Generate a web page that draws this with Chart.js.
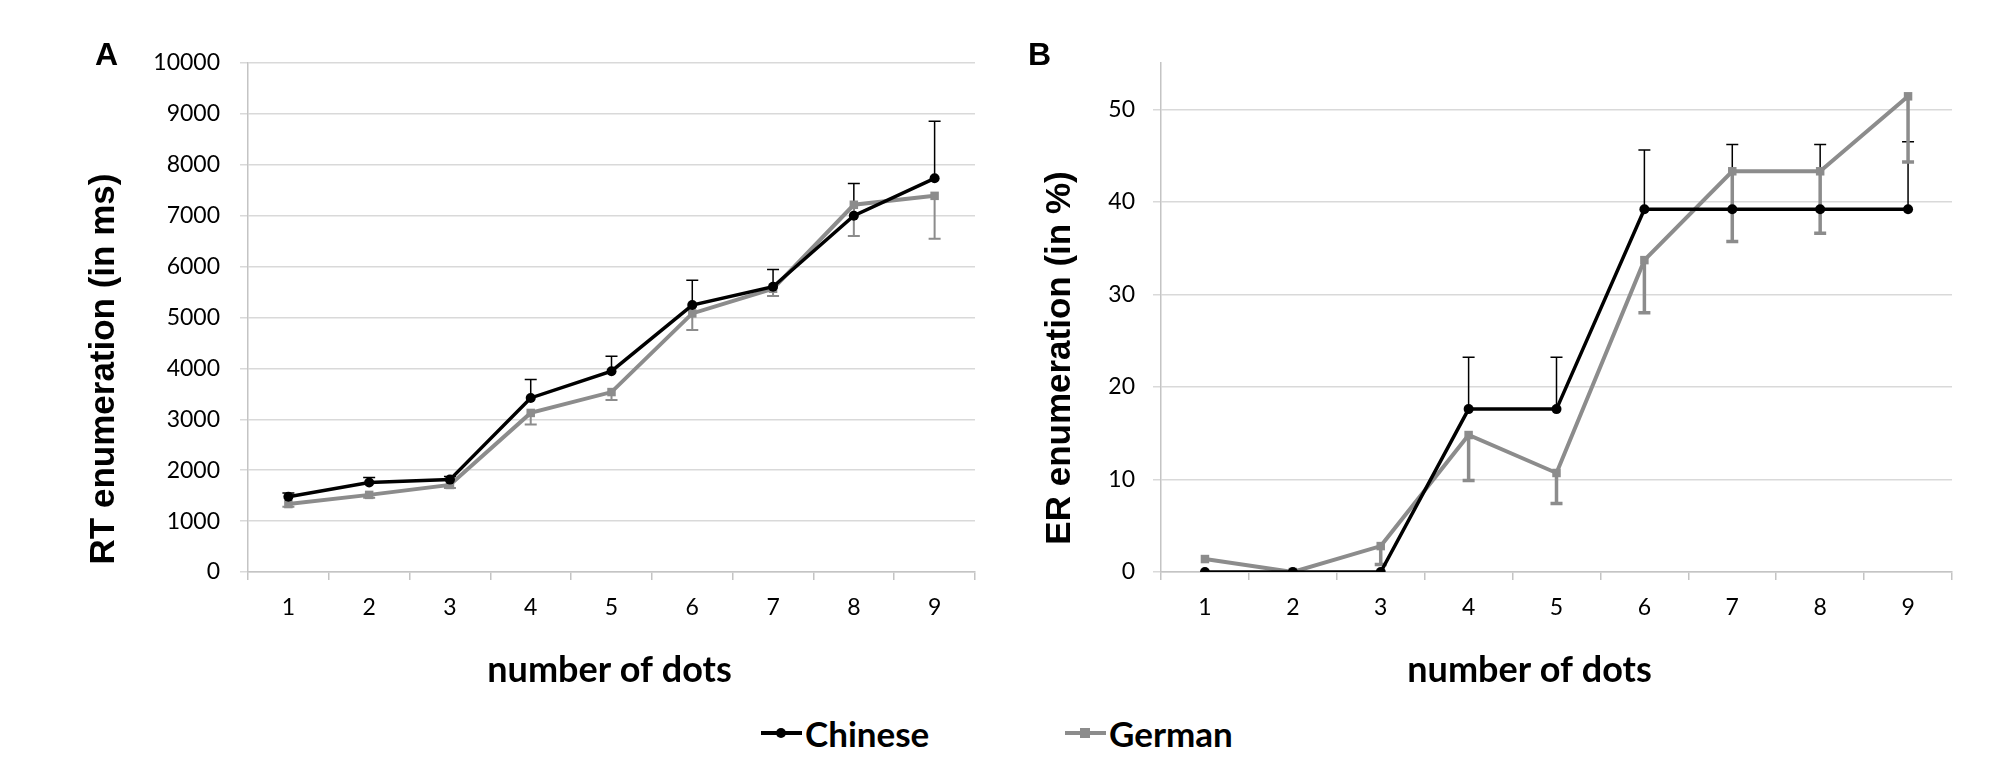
<!DOCTYPE html>
<html>
<head>
<meta charset="utf-8">
<script src="https://cdn.jsdelivr.net/npm/chart.js@4.4.1/dist/chart.umd.min.js"></script>
<style>
html,body{margin:0;padding:0;background:#fff;}
body{width:2004px;height:779px;position:relative;overflow:hidden;}
.panel{position:absolute;top:0;width:1002px;height:700px;}
.item{position:absolute;top:712px;height:42px;display:flex;align-items:center;font:bold 35px Lato,sans-serif;color:#000;}
.linea{display:inline-block;width:41px;height:4px;position:relative;margin-right:3px;}
.linea i{position:absolute;left:15px;top:-3px;width:10px;height:10px;}
</style>
</head>
<body>
<div class="panel" style="left:0"><canvas id="graficoRT"></canvas></div>
<div class="panel" style="left:1002px"><canvas id="graficoER"></canvas></div>
<div class="item" style="left:761px"><span class="linea" style="background:#000"><i style="background:#000;border-radius:50%"></i></span>Chinese</div>
<div class="item" style="left:1065px"><span class="linea" style="background:#8c8c8c"><i style="background:#8c8c8c"></i></span>German</div>
<script>
//datos
const puntos=['1','2','3','4','5','6','7','8','9'];

//A: tiempo de reaccion (ms)
const rtChino=[1480,1760,1815,3420,3945,5245,5605,7000,7735];
const rtChinoErr=[70,95,60,360,295,485,340,635,1120];     //hacia arriba
const rtAleman=[1335,1515,1710,3125,3535,5080,5565,7215,7390];
const rtAlemanErr=[55,55,60,225,155,325,145,615,845];     //hacia abajo

//B: tasa de error (%)
const erChino=[0,0,0,17.6,17.6,39.2,39.2,39.2,39.2];
const erChinoErr=[0,0,0,5.6,5.6,6.4,7.0,7.0,7.3];
const erAleman=[1.4,0,2.8,14.8,10.7,33.7,43.3,43.3,51.4];
const erAlemanErr=[0,0,2.0,4.9,3.3,5.7,7.6,6.7,7.1];

const GRIS='#8c8c8c';
const REJILLA='#d9d9d9';
const EJE='#c4c4c4';

//barras de error de cada serie (solo un lado, como en la figura), debajo de las lineas
const barrasError={
    id:'barrasError',
    beforeDatasetsDraw(chart)
    {
        const ctx=chart.ctx;
        const escalaY=chart.scales.y;
        chart.data.datasets.forEach((ds,i)=>
        {
            if(!ds.error)return;
            const meta=chart.getDatasetMeta(i);
            ctx.save();
            ctx.strokeStyle=ds.errorColor;
            ctx.lineWidth=ds.errorWidth;
            meta.data.forEach((pt,j)=>
            {
                const e=ds.error[j];
                if(!e)return;
                const py=escalaY.getPixelForValue(ds.data[j]+ds.errorDir*e);
                ctx.beginPath();
                ctx.moveTo(pt.x,pt.y);
                ctx.lineTo(pt.x,py);
                ctx.moveTo(pt.x-6,py);
                ctx.lineTo(pt.x+6,py);
                ctx.stroke();
            });
            ctx.restore();
        });
    }
};

//letra del panel y titulos de los ejes
const textosEje={
    id:'textosEje',
    afterDraw(chart,args,opts)
    {
        const ctx=chart.ctx;
        const area=chart.chartArea;
        ctx.save();
        ctx.fillStyle='#000';
        ctx.font='bold 32px "Liberation Sans"';
        ctx.textBaseline='alphabetic';
        ctx.fillText(opts.panel,opts.panelX,opts.panelY);

        ctx.font='bold 36px Lato';
        ctx.textAlign='center';
        ctx.textBaseline='middle';
        ctx.fillText('number of dots',(area.left+area.right)/2+opts.dxTituloX,opts.yTituloX);

        ctx.translate(opts.tituloX,opts.tituloY);
        ctx.rotate(-Math.PI/2);
        ctx.font='bold 35px "Liberation Sans"';
        ctx.fillText(opts.titulo,0,0);
        ctx.restore();
    }
};

function crearGrafico(ctx,series,ejeY,anchoY,padding,textos)
{
    return new Chart(ctx,{
        type:'line',
        data:{labels:puntos,datasets:series},
        plugins:[barrasError,textosEje],
        options:{
            responsive:true,
            maintainAspectRatio:false,
            animation:false,
            devicePixelRatio:1,
            layout:{padding:padding},
            plugins:{
                legend:{display:false},
                tooltip:{enabled:false},
                textosEje:textos
            },
            scales:{
                x:{
                    offset:true,
                    grid:{offset:true,drawOnChartArea:false,tickLength:8,color:EJE,lineWidth:1.5},
                    border:{display:true,color:EJE,width:1.5},
                    ticks:{font:{family:'Lato',size:23},color:'#000',padding:14},
                    afterFit(s){s.height=128;}
                },
                y:Object.assign({
                    grid:{color:REJILLA,lineWidth:1.5,tickLength:8},
                    border:{display:true,color:EJE,width:1.5},
                    afterFit(s){s.width=anchoY;}
                },ejeY)
            }
        }
    });
}

function serie(nombre,datos,err,dir,color,estilo,radio,grosor,grosorErr)
{
    return {
        label:nombre,
        data:datos,
        error:err,
        errorDir:dir,
        errorColor:color,
        errorWidth:grosorErr,
        borderColor:color,
        backgroundColor:color,
        borderWidth:grosor,
        pointStyle:estilo,
        pointRadius:radio,
        pointBorderWidth:0,
        pointBackgroundColor:color,
        tension:0
    };
}

document.addEventListener("DOMContentLoaded",function()
{
    const fuenteTicks={family:'Lato',size:23};
    const sinComas=v=>String(v);

    crearGrafico(
        document.getElementById('graficoRT'),
        [
            serie('Chinese',rtChino,rtChinoErr,1,'#000','circle',5,3.5,1.5),
            serie('German',rtAleman,rtAlemanErr,-1,GRIS,'rect',6,4,2)
        ],
        {min:0,max:10000,ticks:{stepSize:1000,font:fuenteTicks,color:'#000',padding:20,callback:sinComas}},
        248,
        {left:0,right:27,top:63,bottom:0},
        {panel:'A',panelX:95,panelY:65,titulo:'RT enumeration (in ms)',tituloX:104,tituloY:369,dxTituloX:-2,yTituloX:670}
    );

    crearGrafico(
        document.getElementById('graficoER'),
        [
            serie('Chinese',erChino,erChinoErr,1,'#000','circle',5,3.5,1.5),
            serie('German',erAleman,erAlemanErr,-1,GRIS,'rect',6,4,3.5)
        ],
        {
            min:0,max:55,
            ticks:{stepSize:10,font:fuenteTicks,color:'#000',padding:18,callback:sinComas},
            afterBuildTicks(s){s.ticks=s.ticks.filter(t=>t.value<=50);}
        },
        159,
        {left:0,right:52,top:63,bottom:0},
        {panel:'B',panelX:26,panelY:65,titulo:'ER enumeration (in %)',tituloX:58,tituloY:358,dxTituloX:-27,yTituloX:670}
    );
});
</script>
</body>
</html>
